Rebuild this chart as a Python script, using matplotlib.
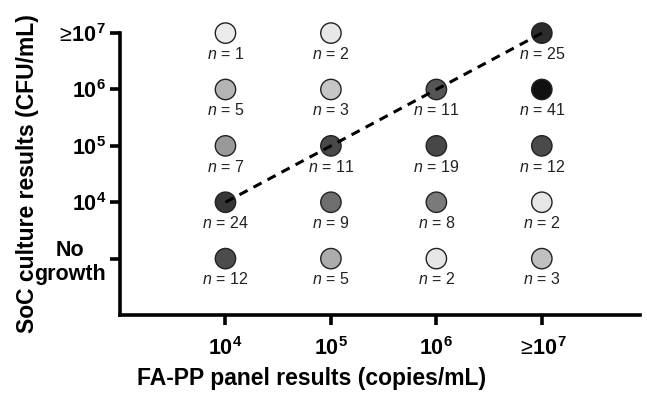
import numpy as np
import matplotlib
matplotlib.use("Agg")
import matplotlib.pyplot as plt

plt.rcParams['font.family'] = ['Liberation Sans', 'DejaVu Sans']
plt.rcParams['mathtext.fontset'] = 'custom'
plt.rcParams['mathtext.rm'] = 'Liberation Sans'
plt.rcParams['mathtext.bf'] = 'Liberation Sans:bold'
plt.rcParams['mathtext.it'] = 'Liberation Sans:italic'

# x: FA-PP panel category, y: SoC culture category (0 = no growth)
x_labels = [r'$\mathbf{10^4}$', r'$\mathbf{10^5}$', r'$\mathbf{10^6}$', r'$\geq\!\mathbf{10^7}$']
y_labels = ['No\ngrowth', r'$\mathbf{10^4}$', r'$\mathbf{10^5}$', r'$\mathbf{10^6}$', r'$\geq\!\mathbf{10^7}$']

pt_x = [1, 1, 1, 1, 1, 2, 2, 2, 2, 2, 3, 3, 3, 3, 4, 4, 4, 4, 4]
pt_y = [4, 3, 2, 1, 0, 4, 3, 2, 1, 0, 3, 2, 1, 0, 4, 3, 2, 1, 0]
counts = [1, 5, 7, 24, 12, 2, 3, 11, 9, 5, 11, 19, 8, 2, 25, 41, 12, 2, 3]
greys = ['#ebebeb', '#b4b4b4', '#999999', '#363636', '#4c4c4c',
         '#e8e8e8', '#c6c6c6', '#494949', '#6e6e6e', '#acacac',
         '#555555', '#474747', '#7a7a7a', '#e6e6e6',
         '#2c2c2c', '#111111', '#4a4a4a', '#e6e6e6', '#c0c0c0']

# agreement line
line_x = [1, 4]
line_y = [1, 4]

fig = plt.figure(figsize=(6.47, 3.94), dpi=100)
ax = fig.add_axes([0.1855, 0.2005, 0.8035, 0.7155])

ax.scatter(pt_x, pt_y, s=215, c=greys, edgecolors='#222222', linewidths=1.0, zorder=3, clip_on=False)
ax.plot(line_x, line_y, color='black', lw=2.2, ls=(0, (3, 2.2)), zorder=4, clip_on=False)

for x, y, n in zip(pt_x, pt_y, counts):
    ax.annotate(r'$\it{n}$ = %d' % n, (x, y), xytext=(0, -15), textcoords='offset points',
                ha='center', va='center', fontsize=11.5, color='#222222')

ax.set_xlim(0, 4.93)
ax.set_ylim(-1, 4)
ax.set_xticks([1, 2, 3, 4])
ax.set_xticklabels(x_labels, fontsize=15.5)
ax.set_yticks([0, 1, 2, 3, 4])
ax.set_yticklabels(y_labels, fontsize=15.5, fontweight='bold')
for lab in ax.get_yticklabels():
    lab.set_multialignment('center')

for s in ['top', 'right']:
    ax.spines[s].set_visible(False)
for s in ['left', 'bottom']:
    ax.spines[s].set_linewidth(2.6)
ax.tick_params(axis='both', length=7, width=2.6)
ax.tick_params(axis='x', pad=9)
ax.tick_params(axis='y', pad=3)

fig.text(0.481, 0.04, 'FA-PP panel results (copies/mL)', ha='center', va='center',
         fontsize=16.5, fontweight='bold')
ax.set_ylabel('SoC culture results (CFU/mL)', fontsize=16.5, fontweight='bold', labelpad=0)
ax.yaxis.set_label_coords(-0.155, 0.5)

fig.savefig('out.png', dpi=100)
